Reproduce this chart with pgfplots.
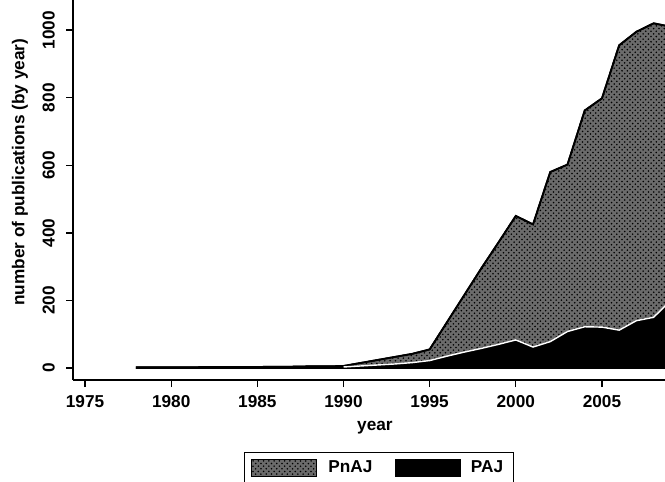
\documentclass[border=0pt]{standalone}
\usepackage{fontspec}
\setmainfont{Liberation Sans}
\usepackage{pgfplots}
\pgfplotsset{compat=1.18}
\usepackage{pgfplotstable}
\usetikzlibrary{patterns}

% yearly publication counts: total (PnAJ + PAJ) and PAJ
\pgfplotstableread{
year total paj
1978 2 1
1979 2 1
1980 2 1
1981 2 1
1982 3 1
1983 3 1
1984 3 1
1985 3 1
1986 4 2
1987 4 2
1988 5 2
1989 5 2
1990 6 3
1991 15 6
1992 24 9
1993 33 12
1994 42 16
1995 55 22
1996 135 35
1997 215 47
1998 295 58
1999 372 70
2000 450 83
2001 425 62
2002 580 78
2003 602 108
2004 762 122
2005 798 121
2006 955 112
2007 995 140
2008 1020 150
2009 1010 200
}\pubs

\definecolor{pnaj}{gray}{0.42}

\begin{document}
\begin{tikzpicture}[font=\bfseries\fontsize{9.8}{11.8}\selectfont]
\begin{axis}[
  name=main,
  scale only axis,
  width=11.84cm, height=7.6cm,
  xmin=1974.3, xmax=2008.66,
  ymin=-35.5, ymax=1089,
  axis x line*=bottom, axis y line*=left,
  axis line style={line width=1pt, -},
  xtick={1975,1980,...,2005},
  ytick={0,200,...,1000},
  tick align=outside,
  major tick length=0.14cm,
  tick style={black, line width=0.8pt},
  /pgf/number format/1000 sep={},
  /pgf/number format/assume math mode=true,
  yticklabel style={rotate=90, anchor=south},
  yticklabel shift=0.1cm,
  xticklabel shift=0.05cm,
  xlabel={year},
  ylabel={number of publications (by year)},
  xlabel style={at={(axis description cs:0.51,-0.126)}, anchor=center},
  ylabel style={at={(axis description cs:-0.0895,0.547)}, anchor=center},
  legend style={at={(axis description cs:0.517,-0.189)}, anchor=north,
    legend columns=2, draw=black, line width=0.6pt,
    inner xsep=4pt, inner ysep=3pt,
    /tikz/every even column/.append style={column sep=0.38cm}},
  legend cell align=left,
  legend image code/.code={\draw[#1, line width=0.6pt] (0cm,-0.17cm) rectangle (1.3cm,0.17cm);
    \path (1.44cm,0cm);},
]
\addplot[fill=pnaj, draw=black, line width=1pt,
  postaction={pattern=crosshatch dots, pattern color=black}]
  table[x=year, y=total] {\pubs} \closedcycle;
\addlegendentry{PnAJ}
\addplot[fill=black, draw=none] table[x=year, y=paj] {\pubs} \closedcycle;
\addlegendentry{PAJ}
\addplot[white, line width=0.8pt, forget plot, restrict x to domain=1990:2010]
  table[x=year, y=paj] {\pubs};
\end{axis}
\pgfresetboundingbox
\path[use as bounding box] (main.south west) ++(-1.46cm,-2.04cm) rectangle ++(13.3cm,9.64cm);
\end{tikzpicture}
\end{document}
